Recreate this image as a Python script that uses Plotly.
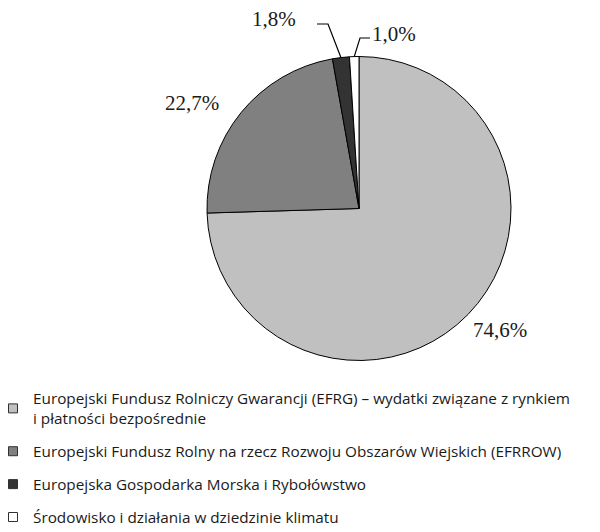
import math
import plotly.graph_objects as go

labels = [
    "Europejski Fundusz Rolniczy Gwarancji (EFRG) – wydatki związane z rynkiem<br>i płatności bezpośrednie",
    "Europejski Fundusz Rolny na rzecz Rozwoju Obszarów Wiejskich (EFRROW)",
    "Europejska Gospodarka Morska i Rybołówstwo",
    "Środowisko i działania w dziedzinie klimatu",
]
values = [74.6, 22.7, 1.8, 1.0]
value_text = ["74,6%", "22,7%", "1,8%", "1,0%"]
colors = ["#c0c0c0", "#808080", "#333333", "#ffffff"]

W, H = 600, 532
OFF = 8                        # page body margin of the rendered html
cx, cy, r = 359, 208.5, 152    # pie centre / radius in screen pixels

def px(x):
    return (x - OFF) / W

def py(y):
    return 1 - (y - OFF) / H

fig = go.Figure()
fig.add_trace(go.Pie(
    labels=labels,
    values=values,
    sort=False,
    direction="clockwise",
    rotation=0,
    marker=dict(colors=colors, line=dict(color="#000000", width=1)),
    textinfo="none",
    hoverinfo="label+percent",
    showlegend=False,
    domain=dict(x=[px(cx - r), px(cx + r)], y=[py(cy + r), py(cy - r)]),
))

# legend entries (one group per slice so spacing can be controlled)
for i, (lab, col) in enumerate(zip(labels, colors)):
    fig.add_trace(go.Scatter(
        x=[None], y=[None], mode="markers", name=lab,
        legendgroup=str(i),
        marker=dict(symbol="square", size=9, color=col, line=dict(color="#303030", width=1)),
        hoverinfo="skip",
    ))

# label positions (screen pixels)
label_pos = [(500, 330), (191.5, 103), (273.5, 19.5), (394, 33.5)]
annotations = []
for t, (lx, ly) in zip(value_text, label_pos):
    annotations.append(dict(
        x=px(lx), y=py(ly), xref="paper", yref="paper", text=t, showarrow=False,
        font=dict(family="Liberation Serif", size=21, color="#1a1a1a"),
        xanchor="center", yanchor="middle",
    ))

# leader lines to small slices, end point computed from the slice mid angle
total = sum(values)
cum = 0
mids = []
for v in values:
    mids.append((cum + v / 2) / total * 2 * math.pi)
    cum += v

shapes = []
elbows = {2: [(317, 24), (328, 24)], 3: [(370, 38), (360, 38)]}
for i, pts in elbows.items():
    a = mids[i]
    ex = cx + r * math.sin(a)
    ey = cy - r * math.cos(a)
    path = "M {} {} L {} {} L {} {}".format(
        px(pts[0][0]), py(pts[0][1]), px(pts[1][0]), py(pts[1][1]), px(ex), py(ey))
    shapes.append(dict(type="path", xref="paper", yref="paper", path=path,
                       line=dict(color="#000000", width=1.2)))

fig.update_layout(
    width=W, height=H,
    margin=dict(l=0, r=0, t=0, b=0, autoexpand=False),
    paper_bgcolor="#ffffff",
    plot_bgcolor="#ffffff",
    showlegend=True,
    xaxis=dict(visible=False),
    yaxis=dict(visible=False),
    legend=dict(
        x=0.0, y=py(382), xanchor="left", yanchor="top",
        traceorder="grouped", tracegroupgap=10, indentation=-15,
        font=dict(family="Open Sans", size=15.3, color="#1a1a1a"),
        bgcolor="rgba(0,0,0,0)",
    ),
    annotations=annotations,
    shapes=shapes,
)

fig.write_html("out.html")
